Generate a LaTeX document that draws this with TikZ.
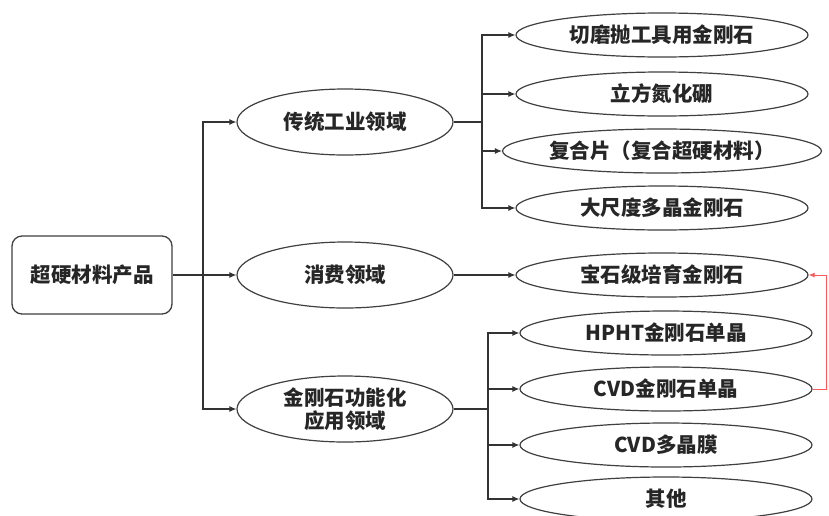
\documentclass[tikz,border=0pt]{standalone}
\usepackage{fontspec}
\setmainfont{Noto Sans CJK SC}
\usetikzlibrary{shapes.geometric,arrows.meta}
\begin{document}
\begin{tikzpicture}[x=1pt,y=-1pt,
  txt/.style={font=\bfseries\fontsize{20.5}{23}\selectfont, text=black!85},
  box/.style={txt, draw=black!75, line width=1.3pt, rounded corners=10pt, minimum width=160pt, minimum height=78pt, inner sep=0pt},
  midell/.style={txt, ellipse, draw=black!75, line width=1.2pt, minimum width=216pt, minimum height=66pt, inner sep=0pt, align=center},
  leaf/.style={txt, ellipse, draw=black!75, line width=1.2pt, minimum width=292pt, minimum height=44pt, inner sep=0pt},
  conn/.style={draw=black!80, line width=1.1pt},
  arr/.style={conn, -{Latex[length=7pt,width=6pt]}}
]
\useasboundingbox (0,0) rectangle (829,515);
\fill[white] (0,0) rectangle (829,515);

\node[box] (root) at (92,275) {超硬材料产品};
\node[midell] (m1) at (345,122) {传统工业领域};
\node[midell] (m2) at (345,275) {消费领域};
\node[midell] (m3) at (345,409) {金刚石功能化\\应用领域};

\node[leaf] (l1) at (662,35) {切磨抛工具用金刚石};
\node[leaf] (l2) at (662,94) {立方氮化硼};
\node[leaf] (l3) at (662,151) {复合片（复合超硬材料）};
\node[leaf] (l4) at (662,208) {大尺度多晶金刚石};

\node[leaf] (g) at (662,275) {宝石级培育金刚石};

\node[leaf] (r1) at (666,333) {HPHT金刚石单晶};
\node[leaf] (r2) at (666,389) {CVD金刚石单晶};
\node[leaf] (r3) at (666,445) {CVD多晶膜};
\node[leaf] (r4) at (666,499) {其他};

% root to middle level
\coordinate (t) at (203,275);
\draw[arr] (root) -- (m2);
\draw[arr] (t) |- (m1.west);
\draw[arr] (t) |- (m3.west);

% group 1
\coordinate (b1) at (482,122);
\draw[conn] (m1.east) -- (b1);
\draw[arr] (b1) |- (l1.west);
\draw[arr] (b1) |- (l2.west);
\draw[arr] (b1) |- (l3.west);
\draw[arr] (b1) |- (l4.west);

% group 2
\draw[arr] (m2) -- (g);

% group 3
\coordinate (b3) at (488,409);
\draw[conn] (m3.east) -- (b3);
\draw[arr] (b3) |- (r1.west);
\draw[arr] (b3) |- (r2.west);
\draw[arr] (b3) |- (r3.west);
\draw[arr] (b3) |- (r4.west);

% red link
\coordinate (rc) at (826,389);
\draw[red!65, line width=0.9pt, -{Latex[length=6pt,width=5pt]}] (r2.east) -- (rc) |- (g.east);
\end{tikzpicture}
\end{document}
